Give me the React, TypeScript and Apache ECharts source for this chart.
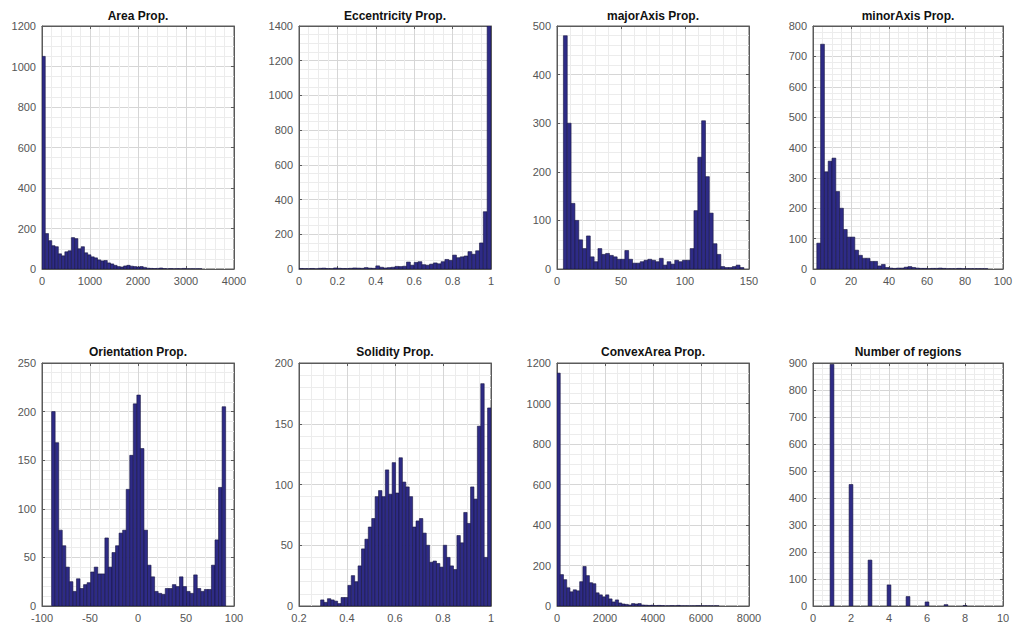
import React, { useEffect, useRef } from "react";
import * as echarts from "echarts";

// ---------- data (histogram counts) ----------
const areaStart = 0;
const areaBinWidth = 68;
const areaCounts = [1050, 175, 140, 115, 110, 75, 65, 85, 90, 155, 150, 100, 110, 80, 70, 60, 55, 45, 40, 42, 30, 25, 18, 12, 10, 15, 18, 14, 12, 10, 12, 8, 4, 3, 2, 3, 5, 2, 1, 2, 1, 2, 1, 3, 1, 1, 1, 1, 1];

const eccStart = 0;
const eccBinWidth = 0.02;
const eccCounts = [3, 2, 2, 3, 1, 4, 5, 3, 2, 6, 4, 3, 3, 4, 6, 5, 4, 8, 5, 4, 18, 10, 6, 8, 10, 15, 14, 16, 40, 22, 38, 42, 25, 22, 28, 35, 30, 42, 55, 50, 80, 65, 70, 75, 100, 85, 105, 150, 330, 1400];

const majorStart = 5;
const majorBinWidth = 3;
const majorCounts = [480, 300, 135, 100, 60, 42, 68, 25, 15, 42, 30, 32, 28, 25, 20, 20, 38, 20, 12, 12, 15, 18, 20, 18, 15, 22, 8, 15, 10, 18, 15, 18, 18, 42, 120, 230, 305, 190, 115, 52, 30, 5, 3, 3, 5, 8, 3];

const minorStart = 2;
const minorBinWidth = 2;
const minorCounts = [85, 740, 320, 355, 365, 255, 200, 130, 105, 105, 62, 45, 35, 35, 25, 25, 10, 15, 5, 3, 2, 3, 3, 6, 8, 5, 3, 2, 2, 1, 2, 2, 3, 2, 1, 1, 1, 2, 1, 1, 1, 1, 1, 1, 1];

const orientStart = -90;
const orientBinWidth = 3.7;
const orientCounts = [200, 168, 78, 62, 40, 25, 15, 28, 18, 22, 24, 35, 40, 33, 33, 70, 40, 55, 62, 75, 78, 120, 155, 208, 217, 162, 78, 42, 30, 15, 13, 12, 18, 18, 22, 20, 30, 20, 15, 13, 32, 18, 15, 17, 17, 42, 68, 122, 205];

const solidStart = 0.29;
const solidBinWidth = 0.0142;
const solidCounts = [5, 3, 6, 5, 4, 2, 7, 7, 17, 25, 20, 33, 47, 55, 65, 72, 90, 95, 90, 112, 92, 118, 93, 122, 102, 98, 90, 65, 70, 72, 60, 50, 36, 37, 35, 32, 50, 40, 33, 30, 58, 52, 77, 68, 98, 88, 148, 183, 40, 163];

const convexStart = 0;
const convexBinWidth = 135;
const convexCounts = [1150, 155, 130, 90, 70, 80, 75, 120, 195, 150, 115, 110, 65, 55, 45, 55, 35, 20, 30, 15, 10, 8, 5, 12, 10, 12, 5, 4, 3, 4, 2, 3, 2, 1, 1, 2, 1, 3, 1, 1, 1, 1, 1, 2, 1, 1, 1, 1, 1, 1];

const regionValues = [1, 2, 3, 4, 5, 6, 7, 8];
const regionCounts = [895, 450, 170, 78, 35, 15, 5, 2];
const regionBarWidth = 0.2;

const titles = [
  "Area Prop.",
  "Eccentricity Prop.",
  "majorAxis Prop.",
  "minorAxis Prop.",
  "Orientation Prop.",
  "Solidity Prop.",
  "ConvexArea Prop.",
  "Number of regions",
];

// ---------- helpers ----------
const binsFrom = (start: number, w: number, counts: number[]) =>
  counts.map((c, i) => [start + i * w, start + (i + 1) * w, c]);
const barsAt = (values: number[], w: number, counts: number[]) =>
  values.map((v, i) => [v - w / 2, v + w / 2, counts[i]]);

type Panel = {
  data: number[][];
  x: [number, number, number, number]; // min, max, interval, minor split
  y: [number, number, number, number];
};

const panels: Panel[] = [
  { data: binsFrom(areaStart, areaBinWidth, areaCounts), x: [0, 4000, 1000, 5], y: [0, 1200, 200, 4] },
  { data: binsFrom(eccStart, eccBinWidth, eccCounts), x: [0, 1, 0.2, 4], y: [0, 1400, 200, 4] },
  { data: binsFrom(majorStart, majorBinWidth, majorCounts), x: [0, 150, 50, 5], y: [0, 500, 100, 5] },
  { data: binsFrom(minorStart, minorBinWidth, minorCounts), x: [0, 100, 20, 4], y: [0, 800, 100, 5] },
  { data: binsFrom(orientStart, orientBinWidth, orientCounts), x: [-100, 100, 50, 5], y: [0, 250, 50, 5] },
  { data: binsFrom(solidStart, solidBinWidth, solidCounts), x: [0.2, 1, 0.2, 4], y: [0, 200, 50, 5] },
  { data: binsFrom(convexStart, convexBinWidth, convexCounts), x: [0, 8000, 2000, 4], y: [0, 1200, 200, 4] },
  { data: barsAt(regionValues, regionBarWidth, regionCounts), x: [0, 10, 2, 4], y: [0, 900, 100, 5] },
];

const COL_LEFT = [42, 299, 557, 813];
const COL_W = [192, 192, 192, 190];
const ROW_TOP = [26, 363];
const PLOT_H = 243;
const TITLE_TOP = [10, 346];

const FONT = "'Liberation Sans', Arial, Helvetica, sans-serif";
const AXIS_COLOR = "#5a5a5a";
const LABEL_COLOR = "#555";
const BAR_FILL = "#2e2b86";
const BAR_EDGE = "#17153f";

const fmt = (v: number) => String(Number(v.toFixed(6)));

export default function App() {
  const ref = useRef<HTMLDivElement>(null);

  useEffect(() => {
    if (!ref.current) return;
    const chart = echarts.init(ref.current, undefined, { renderer: "svg" });

    const grid: any[] = [];
    const xAxis: any[] = [];
    const yAxis: any[] = [];
    const series: any[] = [];
    const title: any[] = [];

    panels.forEach((p, i) => {
      const col = i % 4;
      const row = Math.floor(i / 4);
      grid.push({
        left: COL_LEFT[col],
        top: ROW_TOP[row],
        width: COL_W[col],
        height: PLOT_H,
        show: true,
        backgroundColor: "#ffffff",
        borderColor: AXIS_COLOR,
        borderWidth: 1,
      });
      title.push({
        text: titles[i],
        left: COL_LEFT[col] + COL_W[col] / 2,
        top: TITLE_TOP[row],
        textAlign: "center",
        padding: 0,
        textStyle: { fontSize: 12, fontWeight: "bold", color: "#111", fontFamily: FONT },
      });
      const [xmin, xmax, xint, xminor] = p.x;
      const [ymin, ymax, yint, yminor] = p.y;
      const common = (minor: number) => ({
        type: "value",
        gridIndex: i,
        axisLine: { show: true, onZero: false, lineStyle: { color: AXIS_COLOR, width: 1 } },
        axisTick: { show: true, inside: true, length: 3, lineStyle: { color: AXIS_COLOR } },
        minorTick: { show: false, splitNumber: minor },
      });
      xAxis.push({
        ...common(xminor),
        min: xmin,
        max: xmax,
        interval: xint,
        position: "bottom",
        axisLabel: { color: LABEL_COLOR, fontSize: 11, fontFamily: FONT, margin: 6, formatter: fmt },
        splitLine: { show: true, lineStyle: { color: "#d6d6d6", width: 1 } },
        minorSplitLine: { show: true, lineStyle: { color: "#ececec", width: 1 } },
      });
      xAxis.push({
        ...common(xminor),
        min: xmin,
        max: xmax,
        interval: xint,
        position: "top",
        axisLabel: { show: false },
        splitLine: { show: false },
      });
      yAxis.push({
        ...common(yminor),
        min: ymin,
        max: ymax,
        interval: yint,
        position: "left",
        axisLabel: { color: LABEL_COLOR, fontSize: 11, fontFamily: FONT, margin: 6, formatter: fmt },
        splitLine: { show: true, lineStyle: { color: "#d6d6d6", width: 1 } },
        minorSplitLine: { show: true, lineStyle: { color: "#ececec", width: 1 } },
      });
      yAxis.push({
        ...common(yminor),
        min: ymin,
        max: ymax,
        interval: yint,
        position: "right",
        axisLabel: { show: false },
        splitLine: { show: false },
      });
      series.push({
        type: "custom",
        xAxisIndex: 2 * i,
        yAxisIndex: 2 * i,
        clip: true,
        encode: { x: [0, 1], y: 2 },
        data: p.data,
        renderItem: (_params: any, api: any) => {
          const x0 = api.value(0);
          const x1 = api.value(1);
          const v = api.value(2);
          const a = api.coord([x0, v]);
          const b = api.coord([x1, 0]);
          return {
            type: "rect",
            shape: { x: a[0], y: a[1], width: b[0] - a[0], height: b[1] - a[1] },
            style: { fill: BAR_FILL, stroke: BAR_EDGE, lineWidth: 0.6 },
          };
        },
      });
    });

    chart.setOption({
      animation: false,
      backgroundColor: "#ffffff",
      title,
      grid,
      xAxis,
      yAxis,
      series,
    });

    return () => chart.dispose();
  }, []);

  return (
    <div
      ref={ref}
      style={{ position: "absolute", left: 0, top: 0, width: 1017, height: 626, background: "#fff" }}
    />
  );
}
